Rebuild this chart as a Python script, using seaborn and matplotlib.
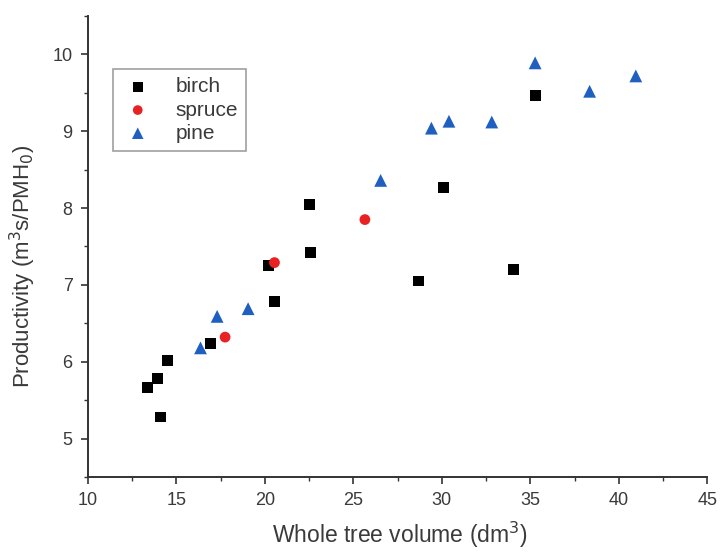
import matplotlib
matplotlib.use("Agg")
import matplotlib.pyplot as plt
import seaborn as sns
import pandas as pd
from matplotlib.ticker import MultipleLocator

birch_x = [13.36, 13.91, 14.09, 14.49, 16.91, 20.22, 20.54, 22.52, 22.57, 28.70, 30.08, 34.05, 35.27]
birch_y = [5.66, 5.78, 5.28, 6.02, 6.24, 7.25, 6.78, 8.05, 7.42, 7.05, 8.27, 7.20, 9.47]
spruce_x = [17.75, 20.54, 25.65]
spruce_y = [6.32, 7.29, 7.85]
pine_x = [16.36, 17.30, 19.05, 26.54, 29.41, 30.40, 32.82, 35.27, 38.35, 40.96]
pine_y = [6.18, 6.59, 6.69, 8.36, 9.04, 9.13, 9.12, 9.89, 9.52, 9.72]

species = ["birch", "spruce", "pine"]
colors = {"birch": "#000000", "spruce": "#e82222", "pine": "#1f5fc0"}
markers = {"birch": "s", "spruce": "o", "pine": "^"}
sizes = {"birch": 60, "spruce": 60, "pine": 85}

df = pd.concat([
    pd.DataFrame({"x": birch_x, "y": birch_y, "species": "birch"}),
    pd.DataFrame({"x": spruce_x, "y": spruce_y, "species": "spruce"}),
    pd.DataFrame({"x": pine_x, "y": pine_y, "species": "pine"}),
], ignore_index=True)

sns.set_style("ticks")
plt.rcParams["font.family"] = ["Liberation Sans", "DejaVu Sans"]

fig = plt.figure(figsize=(7.21, 5.52), dpi=100)
ax = fig.add_axes([0.122, 0.136, 0.859, 0.835])

for sp in species:
    sub = df[df["species"] == sp]
    sns.scatterplot(data=sub, x="x", y="y", ax=ax, color=colors[sp], marker=markers[sp],
                    s=sizes[sp], edgecolor="none", linewidth=0, label=sp, zorder=3)

ax.set_xlim(10, 45)
ax.set_ylim(4.5, 10.5)
ax.xaxis.set_major_locator(MultipleLocator(5))
ax.xaxis.set_minor_locator(MultipleLocator(2.5))
ax.yaxis.set_major_locator(MultipleLocator(1))
ax.yaxis.set_minor_locator(MultipleLocator(0.5))
ax.tick_params(axis="both", which="major", direction="out", length=5, width=1.2,
               labelsize=13, colors="#333333", labelcolor="#3a3a3a")
ax.tick_params(axis="x", which="major", pad=6)
ax.tick_params(axis="y", which="major", pad=6)
ax.tick_params(axis="both", which="minor", direction="out", length=3, width=1.0, colors="#333333")
for s in ["top", "right"]:
    ax.spines[s].set_visible(False)
for s in ["left", "bottom"]:
    ax.spines[s].set_linewidth(1.4)
    ax.spines[s].set_color("#333333")

ax.set_xlabel("Whole tree volume (dm$^3$)", fontsize=16.5, color="#3a3a3a")
ax.set_ylabel("Productivity (m$^3$s/PMH$_0$)", fontsize=16, color="#3a3a3a")
ax.xaxis.set_label_coords(0.504, -0.092)
ax.yaxis.set_label_coords(-0.080, 0.456)

leg = ax.legend(loc="upper left", bbox_to_anchor=(0.040, 0.885), borderaxespad=0,
                frameon=True, fancybox=False,
                edgecolor="#888888", fontsize=15, handletextpad=1.0, borderpad=0.4,
                labelspacing=0.2, markerscale=0.9, handlelength=1.6)
leg.get_frame().set_linewidth(1.2)
for t in leg.get_texts():
    t.set_color("#3a3a3a")

fig.savefig("out.png", dpi=100, facecolor="white")
